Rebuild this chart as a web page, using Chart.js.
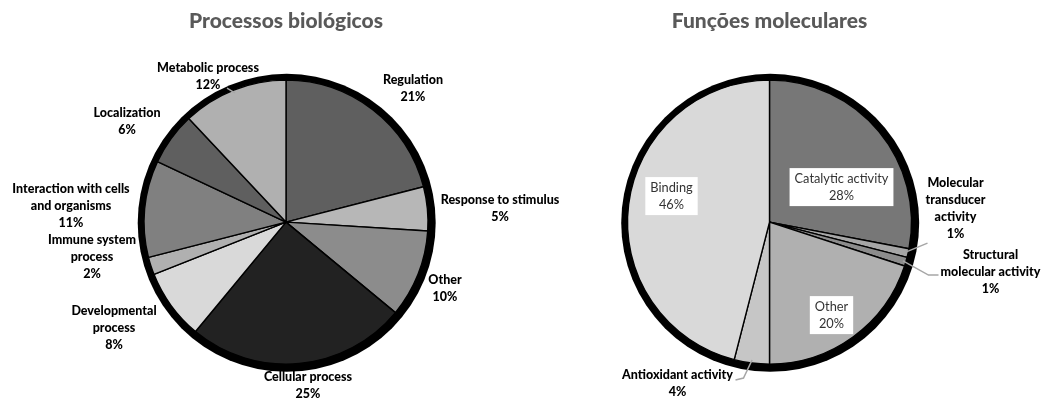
<!DOCTYPE html>
<html>
<head>
<meta charset="utf-8">
<script src="https://cdn.jsdelivr.net/npm/chart.js@4"></script>
<style>
  html, body { margin: 0; padding: 0; background: #fff; }
  #wrap { position: relative; width: 1045px; height: 398px; }
  .panel { position: absolute; top: 0; height: 398px; }
  #panel-bio { left: 0; width: 580px; z-index: 2; }
  #panel-mol { left: 522px; width: 523px; z-index: 1; }
</style>
</head>
<body>
<div id="wrap">
  <div class="panel" id="panel-bio"><canvas id="chart-bio"></canvas></div>
  <div class="panel" id="panel-mol"><canvas id="chart-mol"></canvas></div>
</div>
<script>
// Processos biológicos
const bioTitle = 'Processos biológicos';
const bioCategories = [
  ['Regulation'], ['Response to stimulus'], ['Other'], ['Cellular process'],
  ['Developmental', 'process'], ['Immune system', 'process'],
  ['Interaction with cells', 'and organisms'], ['Localization'], ['Metabolic process']
];
const bioValues = [21, 5, 10, 25, 8, 2, 11, 6, 12];

// Funções moleculares
const molTitle = 'Funções moleculares';
const molCategories = [
  ['Catalytic activity'], ['Molecular', 'transducer', 'activity'],
  ['Structural', 'molecular activity'], ['Other'], ['Antioxidant activity'], ['Binding']
];
const molValues = [28, 1, 1, 20, 4, 46];

// Greys of the slices
const bioColors = ['#5f5f5f', '#b7b7b7', '#8c8c8c', '#222222', '#d9d9d9', '#b0b0b0', '#808080', '#5f5f5f', '#b0b0b0'];
const molColors = ['#777777', '#a6a6a6', '#8c8c8c', '#b0b0b0', '#c6c6c6', '#d9d9d9'];

// Label placement relative to the pie centre (text block centre), optional leader points
const bioLabelLayout = [
  { dx: 127, dy: -134 },
  { dx: 214, dy: -14 },
  { dx: 159, dy: 66 },
  { dx: 22, dy: 163 },
  { dx: -172, dy: 106 },
  { dx: -194, dy: 35 },
  { dx: -215, dy: -16 },
  { dx: -159, dy: -101 },
  { dx: -78, dy: -146, leader: [[-59, -134]] }
];
const molLabelLayout = [
  { dx: 72, dy: -35, boxed: true },
  { dx: 186, dy: -14, leader: [[158, 21]] },
  { dx: 221, dy: 50, leader: [[159, 53], [169, 53]] },
  { dx: 62, dy: 93, boxed: true },
  { dx: -92, dy: 161, leader: [[-26, 156], [-34, 158]] },
  { dx: -98, dy: -26, boxed: true }
];

const labelFont = "'Lato', 'Liberation Sans', sans-serif";
const lineStep = 17;

const pieDecor = {
  id: 'pieDecor',
  beforeDatasetsDraw(chart) {
    // thick black rim behind the pie
    const arc = chart.getDatasetMeta(0).data[0];
    const ctx = chart.ctx;
    ctx.save();
    ctx.fillStyle = '#000';
    ctx.beginPath();
    ctx.arc(arc.x + 0.7, arc.y + 0.7, arc.outerRadius + 7, 0, Math.PI * 2);
    ctx.fill();
    ctx.restore();
  },
  afterDatasetsDraw(chart, args, opts) {
    const meta = chart.getDatasetMeta(0);
    const ctx = chart.ctx;
    const values = chart.data.datasets[0].data;
    ctx.save();
    meta.data.forEach((arc, i) => {
      const lay = opts.layout[i];
      const cx = arc.x, cy = arc.y;

      if (lay.leader) {
        const mid = (arc.startAngle + arc.endAngle) / 2;
        ctx.beginPath();
        ctx.moveTo(cx + Math.cos(mid) * (arc.outerRadius - 3), cy + Math.sin(mid) * (arc.outerRadius - 3));
        lay.leader.forEach(p => ctx.lineTo(cx + p[0], cy + p[1]));
        ctx.strokeStyle = '#a6a6a6';
        ctx.lineWidth = 1.5;
        ctx.stroke();
      }

      const lines = [...chart.data.labels[i], values[i] + '%'];
      const x = cx + lay.dx;
      const y0 = cy + lay.dy - (lines.length - 1) * lineStep / 2;
      ctx.textAlign = 'center';
      ctx.textBaseline = 'middle';

      if (lay.boxed) {
        ctx.font = '12.8px ' + labelFont;
        const w = Math.max(...lines.map(t => ctx.measureText(t).width)) + 10;
        const h = lines.length * lineStep + 4;
        ctx.fillStyle = '#fff';
        ctx.fillRect(x - w / 2, cy + lay.dy - h / 2, w, h);
        ctx.fillStyle = '#333';
      } else {
        ctx.font = '900 12.5px ' + labelFont;
        ctx.fillStyle = '#000';
      }
      lines.forEach((t, k) => ctx.fillText(t, x, y0 + k * lineStep));
    });
    ctx.restore();
  }
};

function makePie(canvasId, title, categories, values, colors, layout, padding) {
  return new Chart(document.getElementById(canvasId), {
    type: 'pie',
    data: {
      labels: categories,
      datasets: [{
        data: values,
        backgroundColor: colors,
        borderColor: '#000',
        borderWidth: 1.4,
        radius: 142
      }]
    },
    options: {
      responsive: true,
      maintainAspectRatio: false,
      animation: false,
      layout: { padding: padding },
      plugins: {
        legend: { display: false },
        tooltip: { enabled: false },
        title: {
          display: true,
          text: title,
          color: '#595959',
          font: { family: labelFont, size: 21, weight: '900' },
          padding: { top: 9, bottom: 12 }
        },
        pieDecor: { layout: layout }
      }
    },
    plugins: [pieDecor]
  });
}

makePie('chart-bio', bioTitle, bioCategories, bioValues, bioColors, bioLabelLayout,
  { left: 50, right: 58, top: 0, bottom: 0 });
makePie('chart-mol', molTitle, molCategories, molValues, molColors, molLabelLayout,
  { left: 0, right: 28, top: 0, bottom: 0 });
</script>
</body>
</html>
